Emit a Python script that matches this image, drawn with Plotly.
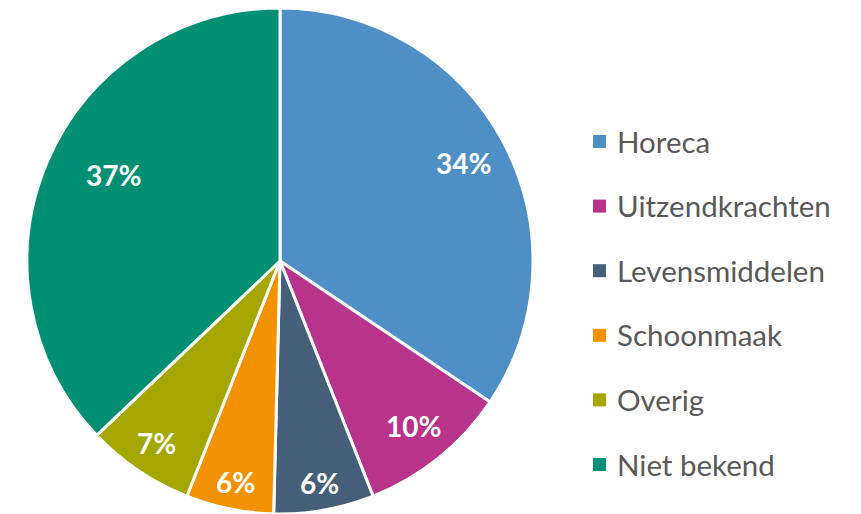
import math
import plotly.graph_objects as go

OFF = 8                      # page body margin added around the figure
W, H = 861 - OFF, 514 - OFF  # figure size so the page fills the window

categories = ["Horeca", "Uitzendkrachten", "Levensmiddelen", "Schoonmaak", "Overig", "Niet bekend"]
values = [34.4, 9.6, 6.4, 5.6, 6.9, 37.1]
colors = ["#4E8FC5", "#B8338A", "#465F79", "#F39200", "#A3A700", "#008F72"]
label_radius = [0.82, 0.84, 0.89, 0.89, 0.87, 0.74]   # label distance from centre (fraction of radius)
label_turn = [0, 0, 0, 0, 0, 4]                        # small angular nudge of labels, degrees

# pie geometry in figure pixels
cx, cy = 280 - OFF, 261 - OFF
r = min(cy, H - cy)

fig = go.Figure(go.Pie(
    labels=categories,
    values=values,
    sort=False,
    direction="clockwise",
    rotation=0,
    marker=dict(colors=colors, line=dict(color="white", width=3)),
    textinfo="none",
    domain=dict(x=[(cx - r) / W, (cx + r) / W], y=[1 - (cy + r) / H, 1 - (cy - r) / H]),
    showlegend=False,
    hoverinfo="label+percent",
))

annotations, shapes = [], []

# percentage labels at each slice's mid-angle
total = sum(values)
cum = 0.0
for v, rf, turn in zip(values, label_radius, label_turn):
    mid = (cum + v / 2) / total * 2 * math.pi + math.radians(turn)
    cum += v
    lx = cx + rf * r * math.sin(mid)
    ly = cy - rf * r * math.cos(mid)
    annotations.append(dict(text=f"{round(v / total * 100)}%", xref="paper", yref="paper",
                            x=lx / W, y=1 - ly / H, xanchor="center", yanchor="middle",
                            showarrow=False,
                            font=dict(family="Lato", size=28, color="white", weight="bold")))

# legend drawn from the same category/color lists
leg_y0, leg_step = 141 - OFF, 64.6
for i, (cat, col) in enumerate(zip(categories, colors)):
    yc = leg_y0 + i * leg_step
    shapes.append(dict(type="rect", xref="paper", yref="paper",
                       x0=(593 - OFF) / W, x1=(606 - OFF) / W,
                       y0=1 - (yc + 7) / H, y1=1 - (yc - 6) / H,
                       fillcolor=col, line=dict(width=0)))
    annotations.append(dict(text=cat, xref="paper", yref="paper", x=(615 - OFF) / W, y=1 - yc / H,
                            xanchor="left", yanchor="middle", showarrow=False,
                            font=dict(family="Lato", size=29.5, color="#595959")))

fig.update_layout(
    width=W, height=H,
    margin=dict(l=0, r=0, t=0, b=0),
    paper_bgcolor="white", plot_bgcolor="white",
    shapes=shapes, annotations=annotations,
)

fig.write_html("out.html")
